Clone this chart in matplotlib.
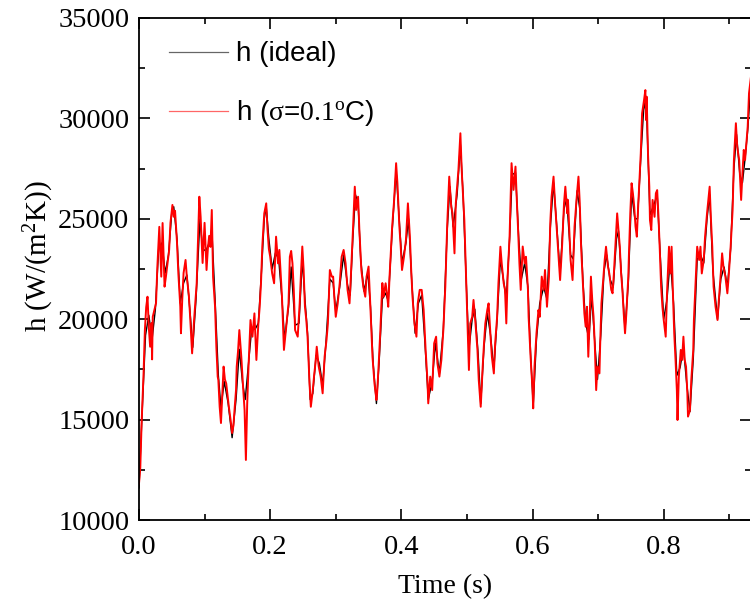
import matplotlib
matplotlib.use("Agg")
import matplotlib.pyplot as plt
from matplotlib.ticker import MultipleLocator

plt.rcParams['font.family'] = ['Liberation Serif', 'DejaVu Serif']
plt.rcParams['mathtext.fontset'] = 'custom'
plt.rcParams['mathtext.rm'] = 'Liberation Serif'
plt.rcParams['mathtext.it'] = 'Liberation Serif:italic'

# ideal heat transfer coefficient
t_ideal = [0.000, 0.005, 0.010, 0.015, 0.020, 0.025, 0.030, 0.035, 0.040, 0.045,
           0.050, 0.053, 0.058, 0.063, 0.068, 0.073, 0.078, 0.082, 0.087, 0.093,
           0.097, 0.102, 0.107, 0.111, 0.116, 0.121, 0.125, 0.130, 0.136, 0.142,
           0.148, 0.153, 0.158, 0.162, 0.167, 0.172, 0.177, 0.182, 0.187, 0.191,
           0.194, 0.198, 0.203, 0.208, 0.213, 0.218, 0.222, 0.228, 0.232, 0.238,
           0.244, 0.249, 0.253, 0.257, 0.261, 0.265, 0.270, 0.275, 0.280, 0.285,
           0.291, 0.296, 0.300, 0.306, 0.312, 0.318, 0.322, 0.326, 0.330, 0.334,
           0.338, 0.343, 0.349, 0.353, 0.357, 0.362, 0.366, 0.371, 0.376, 0.380,
           0.386, 0.392, 0.397, 0.401, 0.407, 0.411, 0.416, 0.421, 0.426, 0.431,
           0.436, 0.441, 0.447, 0.452, 0.458, 0.464, 0.470, 0.474, 0.479, 0.485,
           0.490, 0.494, 0.499, 0.503, 0.508, 0.512, 0.517, 0.521, 0.526, 0.531,
           0.536, 0.541, 0.546, 0.551, 0.556, 0.560, 0.565, 0.569, 0.574, 0.579,
           0.583, 0.588, 0.593, 0.597, 0.601, 0.606, 0.611, 0.617, 0.622, 0.627,
           0.632, 0.637, 0.642, 0.648, 0.652, 0.658, 0.662, 0.668, 0.672, 0.677,
           0.681, 0.686, 0.690, 0.695, 0.699, 0.704, 0.709, 0.713, 0.718, 0.723,
           0.728, 0.731, 0.736, 0.741, 0.746, 0.751, 0.756, 0.760, 0.765, 0.770,
           0.774, 0.779, 0.784, 0.790, 0.794, 0.800, 0.805, 0.810, 0.815, 0.820,
           0.825, 0.830, 0.835, 0.840, 0.845, 0.851, 0.856, 0.861, 0.866, 0.870,
           0.875, 0.882, 0.887, 0.892, 0.897, 0.902, 0.907, 0.911, 0.916, 0.920,
           0.924, 0.928, 0.933]
h_ideal = [11600, 15500, 19200, 20200, 19000, 20500, 23500, 23800, 22300, 23200,
           25300, 25600, 24000, 20800, 21800, 22200, 20300, 18600, 21000, 25000,
           23500, 23400, 23800, 24500, 21000, 17200, 15600, 16900, 15800, 14100,
           16000, 18500, 16800, 16000, 17800, 19600, 19500, 19800, 22500, 25000,
           25600, 24000, 22500, 23300, 23000, 21000, 19000, 20600, 22600, 19700,
           19800, 23000, 21000, 19300, 16000, 16300, 18200, 17800, 16700, 18800,
           22000, 21800, 20400, 21600, 23200, 21700, 21200, 24000, 26200, 25800,
           23000, 21400, 22300, 20600, 17800, 15800, 17800, 21000, 21300, 20900,
           24400, 27400, 24800, 22800, 23800, 25000, 21800, 19300, 20800, 21200,
           18800, 16000, 16900, 18800, 17300, 19500, 24500, 26600, 24600, 26200,
           28700, 26300, 21800, 18500, 20000, 20500, 18300, 15800, 18600, 20300,
           19200, 17500, 20000, 23000, 21900, 21000, 24000, 27200, 27300, 24000,
           22000, 22800, 21600, 18300, 15700, 19000, 20800, 21600, 21000, 24500,
           26800, 24600, 22300, 25500, 26000, 23200, 23000, 26400, 25500, 21800,
           19800, 19000, 21200, 18800, 17000, 19200, 22400, 23200, 22000, 21600,
           24000, 24400, 22000, 19500, 21800, 26300, 25000, 25000, 28000, 30800,
           30200, 25200, 25600, 26200, 23600, 20000, 21000, 23000, 20800, 17200,
           17600, 18600, 16800, 15400, 18000, 23000, 23200, 22800, 25000, 26200,
           22400, 20000, 22000, 22600, 21600, 23500, 27500, 29200, 27200, 26800,
           28000, 29400, 31800]

# noisy estimate, sigma = 0.1 C
t_noisy = [0.000, 0.002, 0.004, 0.007, 0.009, 0.011, 0.013, 0.015, 0.017, 0.019,
           0.020, 0.021, 0.023, 0.026, 0.028, 0.031, 0.034, 0.036, 0.039, 0.041,
           0.044, 0.046, 0.048, 0.051, 0.053, 0.055, 0.058, 0.060, 0.063, 0.064,
           0.066, 0.068, 0.071, 0.073, 0.076, 0.078, 0.081, 0.084, 0.086, 0.088,
           0.090, 0.092, 0.094, 0.097, 0.100, 0.103, 0.105, 0.107, 0.109, 0.111,
           0.113, 0.116, 0.118, 0.120, 0.121, 0.123, 0.125, 0.127, 0.129, 0.131,
           0.133, 0.135, 0.137, 0.140, 0.142, 0.144, 0.146, 0.148, 0.149, 0.151,
           0.153, 0.156, 0.159, 0.161, 0.163, 0.165, 0.167, 0.170, 0.173, 0.176,
           0.179, 0.182, 0.184, 0.186, 0.188, 0.191, 0.194, 0.196, 0.198, 0.200,
           0.203, 0.206, 0.209, 0.212, 0.214, 0.216, 0.218, 0.221, 0.225, 0.228,
           0.230, 0.232, 0.234, 0.236, 0.238, 0.242, 0.245, 0.247, 0.249, 0.251,
           0.253, 0.255, 0.257, 0.260, 0.262, 0.265, 0.267, 0.269, 0.271, 0.274,
           0.277, 0.280, 0.283, 0.286, 0.288, 0.291, 0.294, 0.296, 0.298, 0.300,
           0.303, 0.306, 0.309, 0.312, 0.315, 0.318, 0.321, 0.323, 0.326, 0.329,
           0.331, 0.334, 0.336, 0.339, 0.342, 0.345, 0.347, 0.350, 0.353, 0.356,
           0.359, 0.362, 0.363, 0.365, 0.368, 0.371, 0.373, 0.376, 0.378, 0.380,
           0.382, 0.386, 0.389, 0.392, 0.394, 0.397, 0.399, 0.401, 0.404, 0.407,
           0.410, 0.413, 0.415, 0.417, 0.420, 0.423, 0.425, 0.428, 0.431, 0.434,
           0.437, 0.440, 0.441, 0.444, 0.447, 0.450, 0.453, 0.455, 0.458, 0.461,
           0.464, 0.467, 0.470, 0.473, 0.476, 0.478, 0.481, 0.483, 0.487, 0.490,
           0.492, 0.496, 0.498, 0.500, 0.503, 0.505, 0.508, 0.510, 0.513, 0.516,
           0.518, 0.521, 0.524, 0.526, 0.528, 0.531, 0.533, 0.536, 0.538, 0.541,
           0.543, 0.546, 0.548, 0.551, 0.553, 0.556, 0.558, 0.560, 0.562, 0.565,
           0.568, 0.571, 0.574, 0.576, 0.578, 0.580, 0.582, 0.585, 0.588, 0.590,
           0.593, 0.594, 0.597, 0.600, 0.601, 0.603, 0.606, 0.609, 0.611, 0.614,
           0.617, 0.619, 0.622, 0.625, 0.627, 0.629, 0.632, 0.634, 0.637, 0.640,
           0.642, 0.645, 0.648, 0.650, 0.653, 0.654, 0.658, 0.661, 0.664, 0.667,
           0.670, 0.672, 0.674, 0.677, 0.679, 0.681, 0.683, 0.685, 0.687, 0.689,
           0.691, 0.693, 0.695, 0.697, 0.699, 0.702, 0.703, 0.705, 0.708, 0.710,
           0.712, 0.715, 0.717, 0.720, 0.722, 0.724, 0.727, 0.729, 0.731, 0.733,
           0.735, 0.737, 0.739, 0.741, 0.743, 0.746, 0.747, 0.749, 0.751, 0.753,
           0.755, 0.757, 0.759, 0.761, 0.763, 0.765, 0.767, 0.770, 0.772, 0.773,
           0.774, 0.776, 0.778, 0.779, 0.781, 0.783, 0.786, 0.788, 0.790, 0.792,
           0.794, 0.796, 0.798, 0.800, 0.803, 0.805, 0.808, 0.810, 0.812, 0.814,
           0.816, 0.818, 0.820, 0.821, 0.823, 0.826, 0.828, 0.830, 0.832, 0.834,
           0.836, 0.837, 0.840, 0.842, 0.845, 0.846, 0.849, 0.851, 0.854, 0.856,
           0.858, 0.861, 0.863, 0.866, 0.868, 0.870, 0.872, 0.874, 0.876, 0.879,
           0.882, 0.884, 0.887, 0.889, 0.891, 0.894, 0.897, 0.899, 0.902, 0.905,
           0.907, 0.910, 0.912, 0.915, 0.918, 0.920, 0.922, 0.924, 0.928, 0.930,
           0.933]
h_noisy = [11800, 12600, 14830, 17300, 19460, 20600, 21120, 19600, 18630, 19800,
           18000, 20120, 20400, 20800, 22600, 24600, 22120, 24790, 21620, 22100,
           22900, 23450, 24800, 25690, 25100, 25400, 23800, 22300, 20620, 19300,
           21000, 22300, 22950, 22100, 21200, 20120, 18300, 19960, 20900, 21800,
           23900, 26100, 25100, 22800, 24800, 22450, 23500, 24150, 23600, 25440,
           22100, 20620, 18600, 17140, 16970, 15640, 14830, 16200, 17640, 17000,
           16800, 16200, 15640, 14900, 14330, 14700, 15640, 16500, 17640, 18400,
           19460, 18130, 16470, 15470, 12990, 15800, 17640, 19960, 19130, 20290,
           17970, 19790, 20600, 21790, 23610, 25270, 25770, 24440, 23500, 23120,
           22290, 21790, 24110, 22780, 23450, 22300, 21120, 18470, 19790, 20790,
           23110, 23400, 22780, 21460, 19460, 19130, 20790, 22290, 23620, 22450,
           20620, 20000, 19130, 16810, 15640, 16470, 17200, 17800, 18630, 17640,
           17140, 16310, 18130, 19000, 19790, 22450, 22120, 22120, 21000, 20120,
           20790, 21790, 23110, 23450, 22780, 21460, 20790, 22120, 24280, 26600,
           25440, 26100, 24440, 22450, 21620, 21120, 22120, 22620, 20460, 18130,
           16810, 15980, 16300, 17470, 19460, 21800, 21120, 21790, 21300, 20620,
           22120, 24610, 25940, 27770, 26770, 24610, 23620, 22450, 23110, 23950,
           25770, 24110, 22450, 21120, 19790, 19130, 20790, 21460, 21460, 20460,
           18470, 16810, 15810, 17140, 16470, 18800, 19130, 17800, 17140, 17970,
           19460, 21620, 24780, 27100, 25600, 25270, 23280, 25770, 27430, 29260,
           27430, 24940, 22780, 20460, 17470, 19790, 20120, 20960, 19790, 18470,
           16970, 15640, 17640, 18800, 19790, 20460, 20790, 19130, 18130, 17300,
           18800, 20120, 21790, 23610, 22780, 21790, 21460, 19790, 22120, 24110,
           27770, 26440, 27600, 25940, 24440, 22780, 21460, 23620, 22780, 23110,
           21460, 20120, 18130, 16470, 15560, 17640, 19300, 20460, 20120, 22120,
           21460, 22450, 20620, 22120, 24780, 26100, 27100, 25940, 24440, 22950,
           21950, 23620, 25770, 26600, 25270, 25940, 22950, 21950, 24610, 25940,
           27100, 25770, 23620, 21620, 20290, 19630, 20620, 18130, 19960, 22120,
           20960, 20120, 18630, 16470, 17640, 17300, 18630, 20790, 22120, 22950,
           23610, 22620, 22280, 21460, 21290, 22280, 24110, 25270, 24440, 23620,
           22280, 21460, 20290, 19300, 20290, 22120, 23280, 25270, 26770, 26270,
           25600, 24610, 24110, 25600, 26930, 28260, 30250, 30920, 31410, 29920,
           31080, 28260, 26600, 24940, 24440, 25940, 25100, 26270, 26430, 25100,
           23450, 21620, 20620, 19960, 19130, 21290, 23610, 22280, 23610, 21290,
           19300, 17970, 16470, 14980, 17140, 18470, 17970, 19130, 17970, 17640,
           16310, 15150, 15470, 16970, 18470, 19960, 22120, 23610, 22950, 23610,
           22280, 22950, 24110, 25270, 25940, 26600, 24940, 23610, 21620, 20620,
           19960, 20960, 22280, 23280, 22620, 22120, 21290, 22120, 23610, 25440,
           27930, 29760, 28600, 27930, 25940, 27270, 28430, 27930, 29590, 31250,
           32080]

fig = plt.figure(figsize=(7.5, 6.08), dpi=100)
ax = fig.add_axes([0.1853, 0.1447, 0.8160, 0.8257])

line_ideal, = ax.plot(t_ideal, h_ideal, color='black', lw=1.0, label='h (ideal)')
line_noisy, = ax.plot(t_noisy, h_noisy, color='#ff0000', lw=1.4,
                      label=r'h ($\mathrm{σ}$=$\mathrm{0.1^{o}}$C)')

ax.set_xlim(0, 0.933)
ax.set_ylim(10000, 35000)
ax.xaxis.set_major_locator(MultipleLocator(0.2))
ax.xaxis.set_minor_locator(MultipleLocator(0.1))
ax.yaxis.set_major_locator(MultipleLocator(5000))
ax.yaxis.set_minor_locator(MultipleLocator(2500))
ax.xaxis.set_major_formatter(matplotlib.ticker.FormatStrFormatter('%.1f'))

for s in ax.spines.values():
    s.set_linewidth(1.3)
ax.tick_params(which='both', direction='in', top=True, right=True, width=1.2,
               labelsize=20.5)
ax.tick_params(which='major', length=8)
ax.tick_params(which='minor', length=4.5)
ax.tick_params(axis='x', pad=11)
ax.tick_params(axis='y', pad=7)

ax.set_xlabel('Time (s)', fontsize=20, labelpad=10)
ax.set_ylabel(r'h (W/(m$^\mathrm{2}$K))', fontsize=21)
ax.yaxis.set_label_coords(-0.136, 0.526)

leg = ax.legend(loc='upper left', bbox_to_anchor=(0.009, 1.003), frameon=False,
                prop={'family': ['Liberation Sans'], 'size': 20},
                handlelength=2.1, handletextpad=0.3, labelspacing=1.11)
for ln, src in zip(leg.get_lines(), [line_ideal, line_noisy]):
    ln.set_linewidth(0.9)
    ln.set_color(src.get_color())
    ln.set_alpha(0.6)

fig.savefig('out.png', dpi=100)
